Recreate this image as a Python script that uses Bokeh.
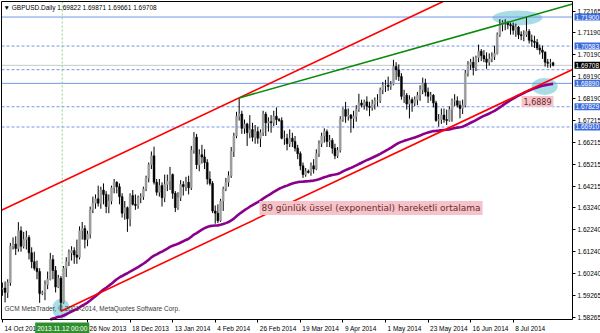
from bokeh.plotting import figure
from bokeh.models import (Range1d, FixedTicker, PrintfTickFormatter, Label, ColumnDataSource,
                          LinearAxis)
from bokeh.embed import file_html
from bokeh.resources import INLINE

# ---------------- data (daily bars, GBPUSD) ----------------
opens = [
    1.5955, 1.5960, 1.5940, 1.5985, 1.6150, 1.6160, 1.6140, 1.6220, 1.6150, 1.6180,
    1.6190, 1.6120, 1.6080, 1.6050, 1.6035, 1.5935, 1.5940, 1.5975, 1.6000, 1.6090,
    1.6040, 1.5965, 1.6005, 1.5895, 1.6050, 1.6080, 1.6120, 1.6130, 1.6110, 1.6100,
    1.6220, 1.6230, 1.6180, 1.6205, 1.6315, 1.6345, 1.6365, 1.6345, 1.6405, 1.6385,
    1.6330, 1.6355, 1.6415, 1.6440, 1.6420, 1.6375, 1.6300, 1.6325, 1.6275, 1.6380,
    1.6340, 1.6335, 1.6370, 1.6375, 1.6410, 1.6460, 1.6520, 1.6560, 1.6440, 1.6395,
    1.6425, 1.6370, 1.6430, 1.6445, 1.6475, 1.6390, 1.6325, 1.6370, 1.6430, 1.6420,
    1.6440, 1.6415, 1.6585, 1.6645, 1.6520, 1.6565, 1.6555, 1.6530, 1.6455, 1.6435,
    1.6310, 1.6300, 1.6265, 1.6355, 1.6410, 1.6440, 1.6470, 1.6580, 1.6650, 1.6740,
    1.6750, 1.6685, 1.6705, 1.6665, 1.6680, 1.6645, 1.6670, 1.6640, 1.6665, 1.6750,
    1.6710, 1.6715, 1.6710, 1.6740, 1.6725, 1.6720, 1.6640, 1.6640, 1.6615, 1.6640,
    1.6625, 1.6595, 1.6570, 1.6515, 1.6475, 1.6490, 1.6485, 1.6515, 1.6500, 1.6570,
    1.6615, 1.6650, 1.6670, 1.6625, 1.6630, 1.6595, 1.6560, 1.6585, 1.6725, 1.6770,
    1.6740, 1.6745, 1.6730, 1.6740, 1.6770, 1.6800, 1.6790, 1.6805, 1.6785, 1.6780,
    1.6795, 1.6810, 1.6810, 1.6860, 1.6880, 1.6880, 1.6875, 1.6885, 1.6965, 1.6950,
    1.6920, 1.6830, 1.6835, 1.6795, 1.6815, 1.6800, 1.6815, 1.6835, 1.6860, 1.6890,
    1.6850, 1.6830, 1.6835, 1.6800, 1.6720, 1.6725, 1.6745, 1.6725, 1.6720, 1.6770,
    1.6810, 1.6810, 1.6790, 1.6775, 1.6790, 1.6935, 1.6975, 1.6985, 1.6960, 1.7005,
    1.7035, 1.7015, 1.7000, 1.6985, 1.7000, 1.7010, 1.7025, 1.7110, 1.7155, 1.7165,
    1.7165, 1.7155, 1.7150, 1.7130, 1.7145, 1.7110, 1.7105, 1.7110, 1.7125, 1.7085,
    1.7080, 1.7075, 1.7050, 1.7040, 1.7030, 1.6985, 1.6980, 1.69822,
]
highs = [
    1.5985, 1.5990, 1.6000, 1.6165, 1.6190, 1.6195, 1.6259, 1.6240, 1.6215, 1.6220,
    1.6200, 1.6145, 1.6125, 1.6085, 1.6050, 1.5948, 1.5995, 1.6035, 1.6120, 1.6110,
    1.6060, 1.6020, 1.6015, 1.6060, 1.6100, 1.6135, 1.6150, 1.6145, 1.6180, 1.6240,
    1.6260, 1.6245, 1.6220, 1.6330, 1.6375, 1.6385, 1.6425, 1.6420, 1.6435, 1.6400,
    1.6385, 1.6425, 1.6455, 1.6445, 1.6435, 1.6390, 1.6355, 1.6330, 1.6390, 1.6405,
    1.6385, 1.6380, 1.6390, 1.6420, 1.6470, 1.6530, 1.6580, 1.6602, 1.6455, 1.6455,
    1.6440, 1.6475, 1.6475, 1.6510, 1.6480, 1.6400, 1.6395, 1.6450, 1.6445, 1.6465,
    1.6470, 1.6605, 1.6668, 1.6660, 1.6590, 1.6610, 1.6590, 1.6545, 1.6490, 1.6445,
    1.6335, 1.6340, 1.6365, 1.6420, 1.6460, 1.6490, 1.6600, 1.6665, 1.6760, 1.6823,
    1.6765, 1.6725, 1.6710, 1.6745, 1.6710, 1.6700, 1.6690, 1.6680, 1.6765, 1.6760,
    1.6735, 1.6745, 1.6765, 1.6780, 1.6732, 1.6735, 1.6675, 1.6660, 1.6680, 1.6665,
    1.6650, 1.6610, 1.6580, 1.6530, 1.6505, 1.6498, 1.6530, 1.6545, 1.6590, 1.6630,
    1.6665, 1.6685, 1.6680, 1.6655, 1.6640, 1.6615, 1.6600, 1.6740, 1.6780, 1.6805,
    1.6775, 1.6750, 1.6765, 1.6790, 1.6842, 1.6815, 1.6815, 1.6830, 1.6805, 1.6815,
    1.6825, 1.6840, 1.6870, 1.6895, 1.6905, 1.6920, 1.6900, 1.6996, 1.6985, 1.6975,
    1.6935, 1.6860, 1.6845, 1.6835, 1.6825, 1.6830, 1.6850, 1.6880, 1.6915, 1.6910,
    1.6870, 1.6850, 1.6840, 1.6810, 1.6750, 1.6775, 1.6775, 1.6770, 1.6785, 1.6820,
    1.6840, 1.6830, 1.6810, 1.6815, 1.6950, 1.6990, 1.7000, 1.7010, 1.7015, 1.7065,
    1.7045, 1.7040, 1.7030, 1.7025, 1.7030, 1.7060, 1.7120, 1.7180, 1.7175, 1.7180,
    1.7170, 1.7165, 1.7165, 1.7160, 1.7150, 1.7125, 1.7130, 1.7190, 1.7135, 1.7110,
    1.7105, 1.7090, 1.7065, 1.7060, 1.7035, 1.7000, 1.7000, 1.69871,
]
lows = [
    1.5925, 1.5895, 1.5915, 1.5970, 1.6135, 1.6110, 1.6125, 1.6125, 1.6140, 1.6135,
    1.6090, 1.6050, 1.6040, 1.6000, 1.5893, 1.5928, 1.5905, 1.5955, 1.5995, 1.6000,
    1.5940, 1.5960, 1.5855, 1.5890, 1.6010, 1.6060, 1.6085, 1.6070, 1.6070, 1.6090,
    1.6180, 1.6140, 1.6150, 1.6185, 1.6300, 1.6320, 1.6330, 1.6320, 1.6340, 1.6300,
    1.6300, 1.6340, 1.6390, 1.6390, 1.6340, 1.6280, 1.6270, 1.6215, 1.6240, 1.6335,
    1.6315, 1.6320, 1.6345, 1.6360, 1.6400, 1.6440, 1.6500, 1.6430, 1.6380, 1.6375,
    1.6330, 1.6350, 1.6400, 1.6405, 1.6365, 1.6305, 1.6315, 1.6355, 1.6380, 1.6400,
    1.6385, 1.6405, 1.6570, 1.6500, 1.6490, 1.6525, 1.6500, 1.6430, 1.6425, 1.6300,
    1.6252, 1.6255, 1.6260, 1.6310, 1.6400, 1.6420, 1.6460, 1.6555, 1.6640, 1.6720,
    1.6660, 1.6660, 1.6605, 1.6640, 1.6625, 1.6615, 1.6615, 1.6600, 1.6650, 1.6650,
    1.6670, 1.6665, 1.6695, 1.6700, 1.6715, 1.6635, 1.6610, 1.6585, 1.6600, 1.6600,
    1.6580, 1.6545, 1.6495, 1.6460, 1.6465, 1.6480, 1.6470, 1.6480, 1.6495, 1.6555,
    1.6600, 1.6620, 1.6600, 1.6600, 1.6570, 1.6545, 1.6550, 1.6575, 1.6715, 1.6710,
    1.6720, 1.6665, 1.6685, 1.6715, 1.6760, 1.6780, 1.6770, 1.6765, 1.6740, 1.6765,
    1.6770, 1.6785, 1.6800, 1.6840, 1.6850, 1.6855, 1.6860, 1.6880, 1.6905, 1.6900,
    1.6815, 1.6800, 1.6770, 1.6730, 1.6760, 1.6785, 1.6790, 1.6810, 1.6840, 1.6830,
    1.6800, 1.6810, 1.6780, 1.6715, 1.6693, 1.6705, 1.6710, 1.6700, 1.6715, 1.6715,
    1.6785, 1.6780, 1.6730, 1.6750, 1.6780, 1.6920, 1.6950, 1.6925, 1.6945, 1.6985,
    1.6990, 1.6985, 1.6955, 1.6970, 1.6985, 1.6995, 1.7020, 1.7100, 1.7125, 1.7130,
    1.7135, 1.7110, 1.7110, 1.7100, 1.7090, 1.7085, 1.7080, 1.7100, 1.7070, 1.7055,
    1.7050, 1.7040, 1.7020, 1.7000, 1.6965, 1.6960, 1.6960, 1.69661,
]
closes = [
    1.5960, 1.5940, 1.5985, 1.6150, 1.6160, 1.6140, 1.6220, 1.6150, 1.6180, 1.6190,
    1.6120, 1.6080, 1.6050, 1.6035, 1.5935, 1.5940, 1.5975, 1.6000, 1.6090, 1.6040,
    1.5965, 1.6005, 1.5895, 1.6050, 1.6080, 1.6120, 1.6130, 1.6110, 1.6100, 1.6220,
    1.6230, 1.6180, 1.6205, 1.6315, 1.6345, 1.6365, 1.6345, 1.6405, 1.6385, 1.6330,
    1.6355, 1.6415, 1.6440, 1.6420, 1.6375, 1.6300, 1.6325, 1.6275, 1.6380, 1.6340,
    1.6335, 1.6370, 1.6375, 1.6410, 1.6460, 1.6520, 1.6560, 1.6440, 1.6395, 1.6425,
    1.6370, 1.6430, 1.6445, 1.6475, 1.6390, 1.6325, 1.6370, 1.6430, 1.6420, 1.6440,
    1.6415, 1.6585, 1.6645, 1.6520, 1.6565, 1.6555, 1.6530, 1.6455, 1.6435, 1.6310,
    1.6300, 1.6265, 1.6355, 1.6410, 1.6440, 1.6470, 1.6580, 1.6650, 1.6740, 1.6750,
    1.6685, 1.6705, 1.6665, 1.6680, 1.6645, 1.6670, 1.6640, 1.6665, 1.6750, 1.6710,
    1.6715, 1.6710, 1.6740, 1.6725, 1.6720, 1.6640, 1.6640, 1.6615, 1.6640, 1.6625,
    1.6595, 1.6570, 1.6515, 1.6475, 1.6490, 1.6485, 1.6515, 1.6500, 1.6570, 1.6615,
    1.6650, 1.6670, 1.6625, 1.6630, 1.6595, 1.6560, 1.6585, 1.6725, 1.6770, 1.6740,
    1.6745, 1.6730, 1.6740, 1.6770, 1.6800, 1.6790, 1.6805, 1.6785, 1.6780, 1.6795,
    1.6810, 1.6810, 1.6860, 1.6880, 1.6880, 1.6875, 1.6885, 1.6965, 1.6950, 1.6920,
    1.6830, 1.6835, 1.6795, 1.6815, 1.6800, 1.6815, 1.6835, 1.6860, 1.6890, 1.6850,
    1.6830, 1.6835, 1.6800, 1.6720, 1.6725, 1.6745, 1.6725, 1.6720, 1.6770, 1.6810,
    1.6810, 1.6790, 1.6775, 1.6790, 1.6935, 1.6975, 1.6985, 1.6960, 1.7005, 1.7035,
    1.7015, 1.7000, 1.6985, 1.7000, 1.7010, 1.7025, 1.7110, 1.7155, 1.7165, 1.7165,
    1.7155, 1.7150, 1.7130, 1.7145, 1.7110, 1.7105, 1.7110, 1.7125, 1.7085, 1.7080,
    1.7075, 1.7050, 1.7040, 1.7030, 1.6985, 1.6980, 1.6982, 1.69708,
]

price_ticks = [1.58265, 1.59265, 1.60240, 1.61240, 1.62240, 1.63240, 1.64215, 1.65215,
               1.66215, 1.67215, 1.68190, 1.69190, 1.70190, 1.71190, 1.72165]
date_tick_bars = [0, 32, 48, 64, 80, 96, 112, 128, 144, 160, 176, 192]
date_tick_labels = ["14 Oct 2013", "26 Nov 2013", "18 Dec 2013", "13 Jan 2014", "4 Feb 2014",
                    "26 Feb 2014", "19 Mar 2014", "9 Apr 2014", "1 May 2014", "23 May 2014",
                    "16 Jun 2014", "8 Jul 2014"]

solid_levels = [1.71900, 1.68890]
dotted_levels = [1.70583, 1.69510, 1.67829, 1.66910]
tag_levels = [1.71900, 1.70583, 1.68890, 1.67829, 1.66910]
bid_price = 1.69708
header_ohlc = [1.69822, 1.69871, 1.69661, 1.69708]

ema_period = 89
ema_start = 1.5685
ema_tag = "1,6889"
ema_caption = "89 günlük üssel (exponential) hareketli ortalama"
channel_slope = 0.0005705          # price per bar
cursor_bar = 22.5
cursor_text = "2013.11.12 00:00"
symbol_text = "GBPUSD.Daily"
copyright_text = "GCM MetaTrader, \u00a9 2001-2014, MetaQuotes Software Corp."

# ---------------- derived ----------------
n = len(closes)
bars = list(range(n))
alpha = 2.0 / (ema_period + 1)
ema = []
prev = ema_start
for c in closes:
    prev = prev + alpha * (c - prev)
    ema.append(prev)

# chart area (price window) in data units, and the full canvas mapping
X0, X1 = -0.34, 214.3
Y0, Y1 = 1.58174, 1.72605
W, H = 600, 333
CH_L, CH_R, CH_T, CH_B = 1, 572, 1, 319       # chart box on the canvas (px)
PXB = (CH_R - CH_L) / (X1 - X0)               # px per bar
PXP = (CH_B - CH_T) / (Y1 - Y0)               # px per price unit
XS0 = X0 - CH_L / PXB
XS1 = XS0 + W / PXB
YS1 = Y1 + CH_T / PXP
YS0 = YS1 - H / PXP

low_bar = min(range(n), key=lambda i: lows[i])
high_bar = max(range(n), key=lambda i: highs[i])
feb_bar = max(range(80, 100), key=lambda i: highs[i])

def chan_low(x):
    return lows[low_bar] + channel_slope * (x - low_bar)

chan_offset = highs[feb_bar] - chan_low(feb_bar)
trend_slope = (highs[high_bar] - highs[feb_bar]) / (high_bar - feb_bar)

# ---------------- figure ----------------
p = figure(width=W, height=H, x_range=Range1d(XS0, XS1), y_range=Range1d(YS0, YS1),
           output_backend="svg", toolbar_location=None,
           x_axis_location=None, y_axis_location=None,
           min_border_left=0, min_border_right=0, min_border_top=0, min_border_bottom=0)
p.grid.visible = False
p.outline_line_color = None
p.background_fill_color = "white"
p.border_fill_color = "white"

# ellipses (analyst marks)
p.ellipse(x=[low_bar, high_bar - 3.4, n - 4.2],
          y=[lows[low_bar] + 0.0011, highs[high_bar] - 0.0004, ema[-4] - 0.0005],
          width=[6.5, 18.8, 9.8], height=[0.0092, 0.0068, 0.0077],
          fill_color="#a9dde6", line_color=None)

# horizontal levels and cursor line
p.segment(x0=[X0] * len(solid_levels), x1=[X1] * len(solid_levels), y0=solid_levels,
          y1=solid_levels, line_color="#7396e8", line_width=1)
p.segment(x0=[X0] * len(dotted_levels), x1=[X1] * len(dotted_levels), y0=dotted_levels,
          y1=dotted_levels, line_color="#7396e8", line_width=1, line_dash="3 2")
p.segment(x0=[X0], x1=[X1], y0=[bid_price], y1=[bid_price], line_color="#c8c8c8", line_width=1)
p.segment(x0=[cursor_bar], x1=[cursor_bar], y0=[Y0], y1=[Y1], line_color="#8ccf8c",
          line_width=1, line_dash="2 2")

# candles
src = ColumnDataSource(dict(
    x=bars, o=opens, h=highs, l=lows, c=closes,
    top=[max(a, b) for a, b in zip(opens, closes)],
    bottom=[min(a, b) for a, b in zip(opens, closes)],
    col=["#9c9c9c" if c >= o else "#000000" for o, c in zip(opens, closes)],
))
p.segment(x0="x", y0="l", x1="x", y1="h", line_color="#000000", line_width=1, source=src)
p.vbar(x="x", width=0.72, top="top", bottom="bottom", fill_color="col", line_color="col",
       line_width=0.5, source=src)

# EMA, clipped to the chart box bottom
k = next(i for i in range(n) if ema[i] >= Y0)
x_start = (k - 1) + (Y0 - ema[k - 1]) / (ema[k] - ema[k - 1])
p.line([x_start] + bars[k:], [Y0] + ema[k:], line_color="#8b008b", line_width=2.6)

# channel + trend line, clipped to the chart box
p.line([low_bar, X1], [chan_low(low_bar), chan_low(X1)], line_color="#ff0000", line_width=1.6)
x_up_end = low_bar + (Y1 - chan_offset - lows[low_bar]) / channel_slope
p.line([X0, x_up_end], [chan_low(X0) + chan_offset, Y1], line_color="#ff0000", line_width=1.6)
x_tr_end = min(X1, feb_bar + (Y1 - highs[feb_bar]) / trend_slope)
p.line([feb_bar, x_tr_end], [highs[feb_bar], highs[feb_bar] + trend_slope * (x_tr_end - feb_bar)],
       line_color="#0a8a0a", line_width=1.6)

# chart box left/top border
p.segment(x0=[X0, X0], x1=[X0, X1], y0=[Y0, Y1], y1=[Y1, Y1], line_color="#000000", line_width=1)

# axes (fixed at the chart box edges)
FONT = "Liberation Sans"
ya = LinearAxis(fixed_location=X1, bounds=(Y0, Y1))
ya.ticker = FixedTicker(ticks=price_ticks)
ya.formatter = PrintfTickFormatter(format="%.5f")
ya.major_label_text_font = FONT
ya.major_label_text_font_size = "6.5px"
ya.major_label_text_color = "#000000"
ya.major_tick_out = 3
ya.major_tick_in = 0
ya.minor_tick_out = 0
ya.minor_tick_in = 0
ya.major_label_standoff = 2
ya.axis_line_color = "#000000"
p.add_layout(ya, "right")

cw = {" ": .278, "O": .778, "N": .722, "D": .722, "J": .5, "F": .611, "M": .833, "A": .667,
      "c": .5, "t": .278, "v": .5, "r": .333, "y": .5, "l": .222}
def text_w(s, size=6.5):
    return sum(cw.get(ch, .556) for ch in s) * size

centers = [round(b + (2 + text_w(t) / 2) / PXB, 3) for b, t in zip(date_tick_bars, date_tick_labels)]
xa = LinearAxis(fixed_location=Y0, bounds=(X0, X1))
xa.ticker = FixedTicker(ticks=centers, minor_ticks=date_tick_bars)
xa.major_label_overrides = {c: t for c, t in zip(centers, date_tick_labels)}
xa.major_label_text_font = FONT
xa.major_label_text_font_size = "6.5px"
xa.major_label_text_color = "#000000"
xa.major_tick_out = 0
xa.major_tick_in = 0
xa.minor_tick_out = 3
xa.minor_tick_in = 0
xa.major_label_standoff = 2
xa.axis_line_color = "#000000"
p.add_layout(xa, "below")

# price tags on the right axis
for lv in tag_levels:
    p.add_layout(Label(x=CH_R + 2, y=lv, x_units="screen", y_units="data", text=f"{lv:.5f}",
                       text_font=FONT, text_font_size="6.5px", text_color="white",
                       text_baseline="middle", text_align="left",
                       background_fill_color="#3d6cdc", padding=1))
p.add_layout(Label(x=CH_R + 2, y=bid_price, x_units="screen", y_units="data",
                   text=f"{bid_price:.5f}",
                   text_font=FONT, text_font_size="6.5px", text_color="white",
                   text_baseline="middle", text_align="left",
                   background_fill_color="#000000", padding=1))

# cursor time tag
p.add_layout(Label(x=cursor_bar, y=H - CH_B - 3, x_units="data", y_units="screen",
                   text=cursor_text,
                   text_font=FONT, text_font_size="6.5px", text_color="white",
                   text_baseline="top", text_align="center",
                   background_fill_color="#2f8f2f", padding=2))

# header and copyright
p.add_layout(Label(x=3, y=H - 7, x_units="screen", y_units="screen",
                   text="\u25bc " + symbol_text + "  " + " ".join(f"{v:.5f}" for v in header_ohlc),
                   text_font=FONT, text_font_size="6.5px", text_color="#000000",
                   text_baseline="middle", text_align="left"))
p.add_layout(Label(x=4, y=H - 308, x_units="screen", y_units="screen", text=copyright_text,
                   text_font=FONT, text_font_size="6.5px", text_color="#3a3a3a",
                   text_baseline="middle", text_align="left"))

# pink notes
p.add_layout(Label(x=259, y=H - 207.5, x_units="screen", y_units="screen", text=ema_caption,
                   text_font="DejaVu Sans", text_font_size="9px", text_color="#6b2c2c",
                   text_baseline="middle", text_align="left",
                   background_fill_color="#f6c3ca", padding=2))
p.add_layout(Label(x=521, y=H - 101, x_units="screen", y_units="screen", text=ema_tag,
                   text_font="DejaVu Sans", text_font_size="8px", text_color="#6b2c2c",
                   text_baseline="middle", text_align="left",
                   background_fill_color="#f6c3ca", padding=2))

open("out.html", "w").write(file_html(p, INLINE))
